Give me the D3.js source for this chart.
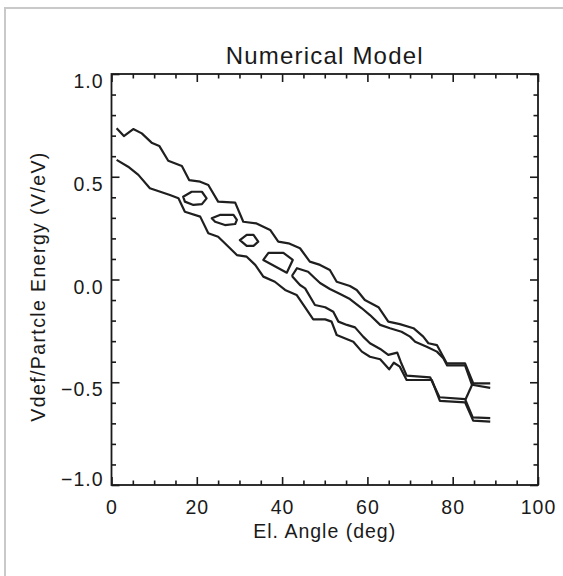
<!DOCTYPE html>
<html>
<head>
<meta charset="utf-8">
<script src="https://cdn.jsdelivr.net/npm/d3@7"></script>
<style>
  body { margin: 0; background: #fff; }
  svg { display: block; }
  text { font-family: "Liberation Sans", Arial, Helvetica, sans-serif; fill: #1a1a1a; }
</style>
</head>
<body>
<div id="chart"></div>
<script>

// Contour lines of the model as [elevation angle (deg), Vdef / energy]
const upperEdge = [
	[1.2, 0.736], [2.9, 0.698], [5.1, 0.732], [7.1, 0.711], [9.4, 0.666], [11.2, 0.650],
	[13.3, 0.578], [16.5, 0.552], [18.2, 0.484], [20.8, 0.476], [22.7, 0.460], [25.0, 0.379],
	[29.0, 0.374], [30.9, 0.281], [34.0, 0.273], [37.2, 0.241], [39.1, 0.184], [41.5, 0.176],
	[44.2, 0.152], [46.5, 0.087], [48.9, 0.071], [51.2, 0.046], [52.8, -0.011], [55.9, -0.032],
	[57.5, -0.051], [59.4, -0.100], [62.6, -0.135], [64.9, -0.205], [67.6, -0.217], [70.8, -0.237],
	[73.1, -0.278], [74.3, -0.310], [76.3, -0.319], [78.6, -0.408], [82.9, -0.408], [84.8, -0.505],
	[88.8, -0.505]
];

const lowerEdge = [
	[1.2, 0.582], [3.9, 0.549], [6.3, 0.509], [9.0, 0.444], [13.7, 0.411], [15.7, 0.395],
	[17.2, 0.330], [20.8, 0.306], [22.7, 0.225], [25.0, 0.208], [27.0, 0.168], [29.4, 0.119],
	[31.7, 0.111], [33.7, 0.071], [35.6, 0.014], [38.3, -0.011], [40.7, -0.051], [43.4, -0.075],
	[45.0, -0.124], [47.3, -0.194], [50.1, -0.194], [51.6, -0.205], [52.8, -0.270], [56.7, -0.303],
	[58.7, -0.351], [60.6, -0.376], [63.0, -0.388], [65.1, -0.437], [66.2, -0.405], [67.6, -0.424],
	[69.2, -0.489], [75.1, -0.489], [77.0, -0.591], [82.9, -0.598], [84.8, -0.687], [88.8, -0.692]
];

// the trough between the two ridges, opening to the right
const innerUpper = [
	[42.3, 0.017], [43.5, 0.055], [46.1, 0.038], [47.7, 0.006], [48.9, -0.017], [51.2, -0.046],
	[53.6, -0.071], [55.9, -0.095], [58.7, -0.140], [60.6, -0.173], [63.0, -0.221], [65.3, -0.237],
	[68.0, -0.254], [70.0, -0.278], [71.2, -0.303], [73.9, -0.327], [76.3, -0.351], [77.8, -0.383],
	[78.7, -0.418], [82.9, -0.418], [84.5, -0.512], [88.8, -0.527]
];

const innerLower = [
	[42.3, 0.017], [44.2, -0.027], [45.4, -0.043], [47.7, -0.124], [50.1, -0.135], [52.0, -0.157],
	[53.2, -0.205], [55.2, -0.221], [57.1, -0.233], [59.0, -0.278], [60.6, -0.310], [63.0, -0.338],
	[64.9, -0.367], [67.0, -0.356], [67.8, -0.400], [69.2, -0.468], [74.7, -0.476], [76.9, -0.573],
	[82.9, -0.582], [84.7, -0.671], [88.8, -0.675]
];

const saddle = [[83.0, -0.584], [84.6, -0.510]];

// closed holes along the band
const island1 = [[16.8, 0.403], [18.8, 0.427], [21.2, 0.427], [22.3, 0.395], [21.2, 0.367], [19.2, 0.363], [17.2, 0.379]];
const island2 = [[23.5, 0.298], [25.4, 0.314], [28.6, 0.314], [29.4, 0.290], [29.0, 0.270], [26.6, 0.265], [24.3, 0.281]];
const island3 = [[30.1, 0.192], [31.7, 0.217], [33.3, 0.217], [34.4, 0.184], [33.3, 0.164], [31.7, 0.164]];
const island4 = [[35.6, 0.095], [36.8, 0.130], [40.3, 0.130], [42.5, 0.095], [41.1, 0.033]];

// axes
const xTickValues = [0, 20, 40, 60, 80, 100];
const yTickValues = [-1.0, -0.5, 0.0, 0.5, 1.0];
const xDomain = [0, 100];
const yDomain = [-1, 1];

const titleText = "Numerical Model";
const xLabelText = "El. Angle (deg)";
const yLabelText = "Vdef/Partcle Energy (V/eV)";

let margin = { top: 74, right: 25, bottom: 91, left: 111.5 };
let totalW = 563, totalH = 576;
let width = totalW - margin.left - margin.right,
	height = totalH - margin.top - margin.bottom;

let svg = d3.select("#chart").append("svg")
	.attr("width", totalW)
	.attr("height", totalH);

// light frame at the top and left of the scan
svg.append("path")
	.attr("d", "M5," + totalH + " V8 H" + totalW)
	.attr("fill", "none")
	.attr("stroke", "#c9c9c9")
	.attr("stroke-width", 2);

let g = svg.append("g")
	.attr("transform", "translate(" + margin.left + "," + margin.top + ")");

let x = d3.scaleLinear().domain(xDomain).range([0, width]);
let y = d3.scaleLinear().domain(yDomain).range([height, 0]);

let xMinor = d3.range(xDomain[0], xDomain[1] + 0.001, 5).filter(v => !xTickValues.includes(v));
let yMinor = d3.range(-10, 11, 1).map(v => v / 10).filter(v => !yTickValues.some(t => Math.abs(t - v) < 1e-9));

const majorLen = 8, minorLen = 4.5;
const fmt = d3.format(".1f");

function styleAxis(sel) {
	sel.select(".domain").remove();
	sel.selectAll(".tick line").attr("stroke", "#1a1a1a").attr("stroke-width", 1.6);
	sel.attr("font-family", null).attr("font-size", null);
}

// bottom, with labels
g.append("g")
	.attr("transform", "translate(0," + height + ")")
	.call(d3.axisBottom(x).tickValues(xTickValues).tickSize(-majorLen).tickPadding(15).tickFormat(d3.format("d")))
	.call(styleAxis)
	.selectAll("text")
	.style("font-size", "19.5px")
	.style("letter-spacing", "1px");

g.append("g")
	.attr("transform", "translate(0," + height + ")")
	.call(d3.axisBottom(x).tickValues(xMinor).tickSize(-minorLen).tickFormat(""))
	.call(styleAxis);

// top, ticks only
g.append("g")
	.call(d3.axisTop(x).tickValues(xTickValues).tickSize(-majorLen).tickFormat(""))
	.call(styleAxis);
g.append("g")
	.call(d3.axisTop(x).tickValues(xMinor).tickSize(-minorLen).tickFormat(""))
	.call(styleAxis);

// left, with labels
g.append("g")
	.call(d3.axisLeft(y).tickValues(yTickValues).tickSize(-majorLen).tickPadding(8).tickFormat(fmt))
	.call(styleAxis)
	.selectAll("text")
	.attr("dy", d => d === -1 ? "0.05em" : "0.7em")
	.style("font-size", "19.5px")
	.style("letter-spacing", "1px");

g.append("g")
	.call(d3.axisLeft(y).tickValues(yMinor).tickSize(-minorLen).tickFormat(""))
	.call(styleAxis);

// right, ticks only
g.append("g")
	.attr("transform", "translate(" + width + ",0)")
	.call(d3.axisRight(y).tickValues(yTickValues).tickSize(-majorLen).tickFormat(""))
	.call(styleAxis);
g.append("g")
	.attr("transform", "translate(" + width + ",0)")
	.call(d3.axisRight(y).tickValues(yMinor).tickSize(-minorLen).tickFormat(""))
	.call(styleAxis);

// plot box
g.append("rect")
	.attr("width", width)
	.attr("height", height)
	.attr("fill", "none")
	.attr("stroke", "#1a1a1a")
	.attr("stroke-width", 1.8);

// contours
let line = d3.line().x(d => x(d[0])).y(d => y(d[1]));
let loop = d3.line().x(d => x(d[0])).y(d => y(d[1])).curve(d3.curveLinearClosed);

[upperEdge, lowerEdge, innerUpper, innerLower, saddle].forEach(pts => {
	g.append("path")
		.datum(pts)
		.attr("d", line)
		.attr("fill", "none")
		.attr("stroke", "#1f1f1f")
		.attr("stroke-width", 2.2)
		.attr("stroke-linejoin", "round");
});

[island1, island2, island3, island4].forEach(pts => {
	g.append("path")
		.datum(pts)
		.attr("d", loop)
		.attr("fill", "none")
		.attr("stroke", "#1f1f1f")
		.attr("stroke-width", 2.2)
		.attr("stroke-linejoin", "round");
});

// title and axis titles
g.append("text")
	.attr("x", width / 2)
	.attr("y", -9.7)
	.attr("text-anchor", "middle")
	.style("font-size", "24px")
	.style("letter-spacing", "1.2px")
	.text(titleText);

g.append("text")
	.attr("x", width / 2)
	.attr("y", height + 53)
	.attr("text-anchor", "middle")
	.style("font-size", "19.5px")
	.style("letter-spacing", "1px")
	.text(xLabelText);

g.append("text")
	.attr("transform", "rotate(-90)")
	.attr("x", -(height / 2) - 7)
	.attr("y", 45 - margin.left)
	.attr("text-anchor", "middle")
	.style("font-size", "19.5px")
	.style("letter-spacing", "1.4px")
	.text(yLabelText);

</script>
</body>
</html>
